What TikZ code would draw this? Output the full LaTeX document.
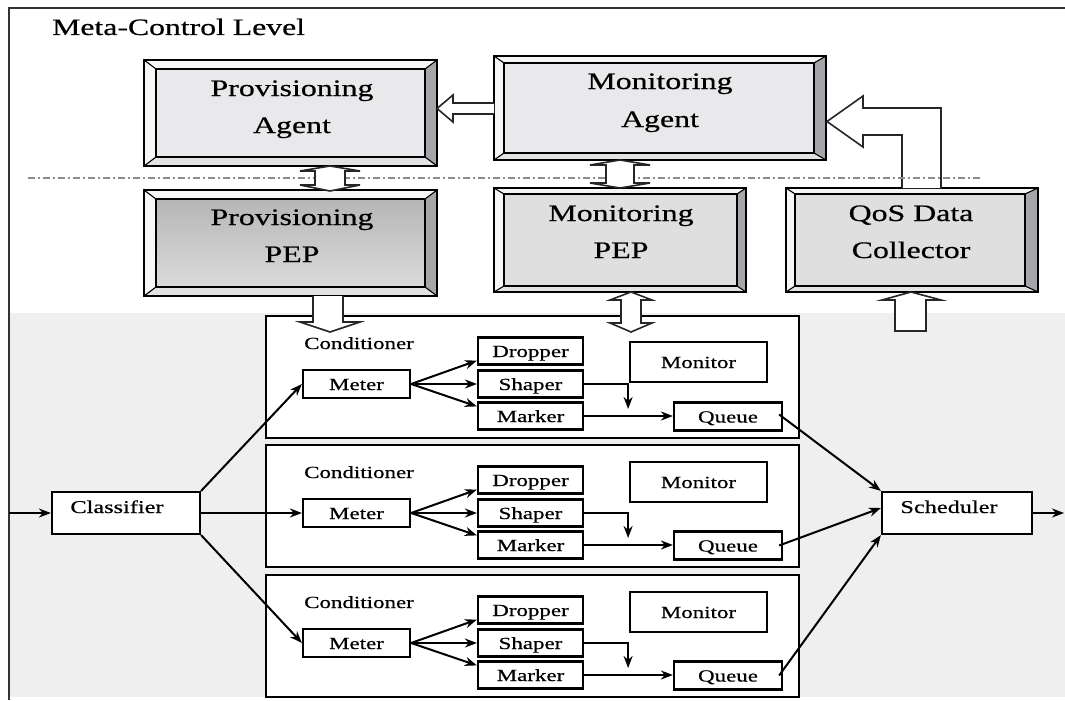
\documentclass[tikz,border=0pt]{standalone}
\usepackage{fontspec}
\setmainfont{Liberation Serif}[FakeStretch=1.35, FakeBold=0.6]
\usetikzlibrary{arrows.meta,calc}
\definecolor{bggray}{HTML}{EFEFEF}
\definecolor{agentfill}{HTML}{E9E9EB}
\definecolor{pepfill}{HTML}{DFDFDF}
\definecolor{bvlight}{HTML}{F6F6F6}
\definecolor{bvbottom}{HTML}{E2E2E2}
\definecolor{bvdark}{HTML}{A6A6AA}
\definecolor{dashgray}{HTML}{8C8C8C}
\newcommand\bigfont{\fontsize{23.6}{30}\selectfont}
\newcommand\smallfont{\fontsize{17}{20}\selectfont}
\newcommand\midfont{\fontsize{18}{21}\selectfont}
\newcommand\metafont{\fontsize{23.5}{28}\selectfont}
\tikzset{
  cbox/.style={draw, line width=2.2pt, fill=white, inner sep=0pt},
  sbox/.style={draw, line width=2.2pt, fill=white, inner sep=0pt, font=\smallfont, text height=12pt, text depth=0pt},
  conn/.style={line width=2pt, -{Stealth[length=12pt,width=9pt]}},
  fat/.style={draw=black!85, line width=1.6pt, fill=white, line join=miter},
  bigtext/.style={font=\bigfont, anchor=base, inner sep=0pt},
}
% #1 name, #2 x1, #3 y1, #4 x2, #5 y2, #6 left inset, #7 right inset, #8 fill options, #9 vertical inset
\newcommand\bevelbox[9]{%
  \path[#8] (#2,#3) rectangle (#4,#5);
  \fill[bvlight] (#2,#3) -- (#4,#3) -- ({#4-#7},{#3+#9}) -- ({#2+#6},{#3+#9}) -- cycle;
  \fill[bvlight] (#2,#3) -- ({#2+#6},{#3+#9}) -- ({#2+#6},{#5-#9}) -- (#2,#5) -- cycle;
  \fill[bvbottom] (#2,#5) -- ({#2+#6},{#5-#9}) -- ({#4-#7},{#5-#9}) -- (#4,#5) -- cycle;
  \fill[bvdark] (#4,#3) -- ({#4-#7},{#3+#9}) -- ({#4-#7},{#5-#9}) -- (#4,#5) -- cycle;
  \draw[line width=1.3pt] ({#2+#6},{#3+#9}) rectangle ({#4-#7},{#5-#9});
  \draw[line width=1.1pt] (#2,#3) -- ({#2+#6},{#3+#9}) (#4,#3) -- ({#4-#7},{#3+#9})
     (#2,#5) -- ({#2+#6},{#5-#9}) (#4,#5) -- ({#4-#7},{#5-#9});
  \node[draw, line width=2.2pt, minimum width={#4-#2}, minimum height={#5-#3}, inner sep=0pt] (#1) at ({(#2+#4)/2},{(#3+#5)/2}) {};
}
\begin{document}
\begin{tikzpicture}[x=1pt,y=-1pt]
\useasboundingbox (0,0) rectangle (1065,701);
% lower (gray) level
\fill[bggray] (9,313) rectangle (1065,697);
% frame
\draw[line width=1.5pt, black!80] (1065,8) -- (9,8) -- (9,700);
\node[font=\metafont, anchor=base west, inner sep=0pt] (meta) at (52,35) {Meta-Control Level};

% bevelled boxes
\bevelbox{pa}{144}{60}{437}{166}{12}{12}{fill=agentfill}{9}
\bevelbox{ma}{494}{56}{826}{160}{10}{12}{fill=agentfill}{7}
\bevelbox{pp}{144}{190}{437}{296}{12}{12}{top color=black!30, bottom color=black!13}{9}
\bevelbox{mp}{494}{188}{746}{292}{10}{9}{fill=pepfill}{6}
\bevelbox{qc}{786}{188}{1038}{292}{9}{13}{fill=pepfill}{6}

\node[bigtext] (pa1) at (292,96) {Provisioning};
\node[bigtext] (pa2) at (292,133) {Agent};
\node[bigtext] (pp1) at (292,225) {Provisioning};
\node[bigtext] (pp2) at (292,262) {PEP};
\node[bigtext] (ma1) at (660,89) {Monitoring};
\node[bigtext] (ma2) at (660,127) {Agent};
\node[bigtext] (mp1) at (621,221) {Monitoring};
\node[bigtext] (mp2) at (621,258) {PEP};
\node[bigtext] (qc1) at (911,221) {QoS Data};
\node[bigtext] (qc2) at (911,258) {Collector};

% fat arrows in the meta level
\path[fat] (494,103) -- (453,103) -- (453,95) -- (437,108.5) -- (453,122) -- (453,114) -- (494,114);
\path[fat] (902,188) -- (902,135) -- (863,135) -- (863,147) -- (827,121.5) -- (863,96) -- (863,108) -- (941,108) -- (941,188);

% level separator
\draw[dashgray, line width=1.6pt, dash pattern=on 7pt off 3pt on 2pt off 3pt] (28,178) -- (980,178);

\path[fat] (315,171) -- (300,171) -- (330,166) -- (360,171) -- (345,171) -- (345,185) -- (360,185) -- (330,191) -- (300,185) -- (315,185) -- cycle;
\path[fat] (606,165) -- (590,165) -- (620,160) -- (650,165) -- (634,165) -- (634,183) -- (650,183) -- (620,188) -- (590,183) -- (606,183) -- cycle;

% conditioners
\foreach \i/\t/\mo in {1/315/47, 2/444/38, 3/574/38}{
  \node[cbox, minimum width=533, minimum height=122, anchor=north west] (c\i) at (265,\t) {};
  \node[font=\smallfont, anchor=base west, inner sep=0pt] (lab\i) at (304,{\t+34}) {Conditioner};
  \node[sbox, minimum width=107, minimum height=28] (m\i) at (356.5,{\t+69}) {Meter};
  \node[sbox, minimum width=105, minimum height=27] (d\i) at (530.5,{\t+36}) {Dropper};
  \node[sbox, minimum width=105, minimum height=27] (s\i) at (530.5,{\t+69}) {Shaper};
  \node[sbox, minimum width=105, minimum height=27] (mk\i) at (530.5,{\t+101}) {Marker};
  \node[sbox, minimum width=108, minimum height=28] (q\i) at (728,{\t+101.5}) {Queue};
  \node[sbox, minimum width=137, minimum height=40] (mo\i) at (698.5,{\t+\mo}) {Monitor};
  \draw[conn] (m\i.east) -- ($(d\i.south west)+(0,-5)$);
  \draw[conn] (m\i.east) -- (s\i.west);
  \draw[conn] (m\i.east) -- ($(mk\i.north west)+(0,5)$);
  \draw[conn] (s\i.east) -| ($(mk\i.east)+(44,-7)$);
  \draw[conn] (mk\i.east) -- (mk\i.east -| q\i.west);
}

% fat arrows to the lower level
\path[fat] (313,296) -- (313,322) -- (300,322) -- (330,332) -- (360,322) -- (343,322) -- (343,296);
\path[fat] (621,300) -- (610,300) -- (631,292) -- (652,300) -- (641,300) -- (641,323) -- (652,323) -- (631,332) -- (610,323) -- (621,323) -- cycle;
\path[fat] (895,331) -- (895,300) -- (882,300) -- (911,292) -- (941,300) -- (926,300) -- (926,331) -- cycle;

% classifier and scheduler
\node[cbox, minimum width=148, minimum height=42] (cl) at (126,513) {};
\node[font=\midfont, anchor=base, inner sep=0pt] (clt) at (117,513) {Classifier};
\node[cbox, minimum width=150, minimum height=42] (sch) at (957,513) {};
\node[font=\midfont, anchor=base, inner sep=0pt] (scht) at (949,513) {Scheduler};
\coordinate (in) at (9,513);
\coordinate (out) at (1064,513);

\draw[conn] (in) -- (cl.west);
\draw[conn] (cl.north east) -- (m1.west);
\draw[conn] (cl.east) -- (m2.west);
\draw[conn] (cl.south east) -- (m3.west);
\draw[conn] ($(q1.east)+(-4,-2)$) -- (sch.north west);
\draw[conn] ($(q2.east)+(-4,0)$) -- ($(sch.west)+(0,-5)$);
\draw[conn] ($(q3.east)+(-4,0)$) -- (sch.south west);
\draw[conn] (sch.east) -- (out);
\end{tikzpicture}
\end{document}
